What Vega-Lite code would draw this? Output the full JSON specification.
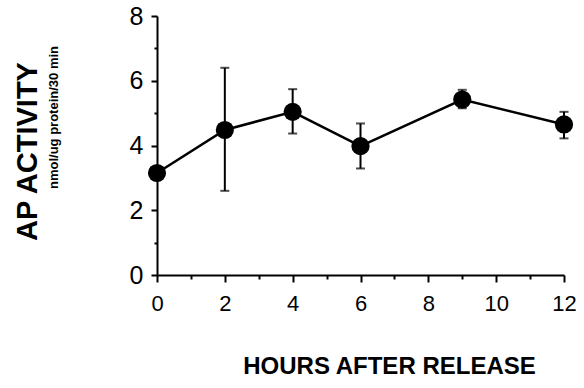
{
  "$schema": "https://vega.github.io/schema/vega-lite/v6.json",
  "width": 407,
  "height": 259,
  "autosize": "none",
  "padding": {"left": 157, "top": 16, "right": 20, "bottom": 113},
  "background": "white",
  "config": {
    "view": {"stroke": null},
    "font": "Liberation Sans",
    "axis": {"grid": false, "domainColor": "black", "domainWidth": 2, "tickColor": "black", "tickWidth": 2, "labelColor": "black", "titleColor": "black", "labelFont": "Liberation Sans", "titleFont": "Liberation Sans"}
  },
  "title": {
    "text": "AP ACTIVITY",
    "orient": "left",
    "anchor": "middle",
    "frame": "group",
    "fontSize": 29,
    "fontWeight": "bold",
    "font": "Liberation Sans",
    "color": "black",
    "offset": 4,
    "dx": -6
  },
  "data": {
    "values": [
      {"hours": 0, "activity": 3.15, "lo": null, "hi": null},
      {"hours": 2, "activity": 4.48, "lo": 2.6, "hi": 6.4},
      {"hours": 4, "activity": 5.04, "lo": 4.37, "hi": 5.74},
      {"hours": 6, "activity": 3.98, "lo": 3.29, "hi": 4.68},
      {"hours": 9, "activity": 5.42, "lo": 5.15, "hi": 5.72},
      {"hours": 12, "activity": 4.65, "lo": 4.22, "hi": 5.04}
    ]
  },
  "encoding": {
    "x": {
      "field": "hours", "type": "quantitative",
      "scale": {"domain": [0, 12], "nice": false, "zero": false},
      "axis": {
        "title": "HOURS AFTER RELEASE",
        "titleFontSize": 24, "titleFontWeight": "bold",
        "titleX": 232, "titlePadding": 40,
        "values": [0,1,2,3,4,5,6,7,8,9,10,11,12],
        "labelExpr": "datum.value % 2 == 0 ? datum.label : ''",
        "labelFontSize": 22, "labelPadding": 11,
        "tickSize": {"condition": {"test": "datum.value % 2 == 0", "value": 7}, "value": 4},
        "labelFlush": false, "labelOverlap": false
      }
    },
    "y": {
      "field": "activity", "type": "quantitative",
      "scale": {"domain": [0, 8], "nice": false},
      "axis": {
        "title": "nmol/ug protein/30 min",
        "titleFontSize": 13, "titleFontWeight": "bold",
        "titleY": 101, "titlePadding": 69,
        "values": [0,1,2,3,4,5,6,7,8],
        "labelExpr": "datum.value % 2 == 0 ? datum.label : ''",
        "labelFontSize": 25, "labelPadding": 8,
        "tickSize": {"condition": {"test": "datum.value % 2 == 0", "value": 6}, "value": 3},
        "labelOverlap": false
      }
    }
  },
  "layer": [
    {
      "transform": [{"filter": "datum.lo != null"}],
      "mark": {"type": "rule", "color": "black", "strokeWidth": 2},
      "encoding": {"y": {"field": "lo", "type": "quantitative"}, "y2": {"field": "hi"}}
    },
    {
      "transform": [{"filter": "datum.lo != null"}],
      "mark": {"type": "tick", "color": "black", "orient": "horizontal", "size": 9, "thickness": 2},
      "encoding": {"y": {"field": "lo", "type": "quantitative"}}
    },
    {
      "transform": [{"filter": "datum.lo != null"}],
      "mark": {"type": "tick", "color": "black", "orient": "horizontal", "size": 9, "thickness": 2},
      "encoding": {"y": {"field": "hi", "type": "quantitative"}}
    },
    {
      "mark": {"type": "line", "color": "black", "strokeWidth": 2.5},
      "encoding": {}
    },
    {
      "mark": {"type": "circle", "color": "black", "opacity": 1, "size": 330},
      "encoding": {}
    }
  ]
}
